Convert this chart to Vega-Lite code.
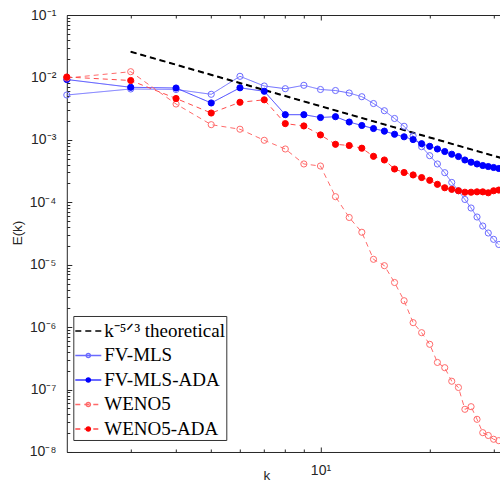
{
  "$schema": "https://vega.github.io/schema/vega-lite/v6.json",
  "width": 437,
  "height": 437,
  "autosize": {"type": "none"},
  "padding": {"left": 66.8, "top": 15, "right": 0, "bottom": 30},
  "background": "white",
  "config": {
    "view": {"stroke": null},
    "axis": {"grid": false, "domainColor": "#262626", "tickColor": "#262626", "labelColor": "#262626", "titleColor": "#262626", "labelFont": "Liberation Sans", "titleFont": "Liberation Sans", "labelFontSize": 14, "titleFontSize": 13.5, "titleFontWeight": "normal", "domainWidth": 1, "tickWidth": 1}
  },
  "data": {"values": [
    {"s": "T", "k": 3, "E": 0.0258},
    {"s": "T", "k": 32, "E": 0.000499},
    {"s": "FV-MLS", "k": 2, "E": 0.00523},
    {"s": "FV-MLS", "k": 3, "E": 0.00653},
    {"s": "FV-MLS", "k": 4, "E": 0.00641},
    {"s": "FV-MLS", "k": 5, "E": 0.00537},
    {"s": "FV-MLS", "k": 6, "E": 0.01042},
    {"s": "FV-MLS", "k": 7, "E": 0.00729},
    {"s": "FV-MLS", "k": 8, "E": 0.0066},
    {"s": "FV-MLS", "k": 9, "E": 0.00748},
    {"s": "FV-MLS", "k": 10, "E": 0.00641},
    {"s": "FV-MLS", "k": 11, "E": 0.00617},
    {"s": "FV-MLS", "k": 12, "E": 0.00563},
    {"s": "FV-MLS", "k": 13, "E": 0.00491},
    {"s": "FV-MLS", "k": 14, "E": 0.00382},
    {"s": "FV-MLS", "k": 15, "E": 0.00293},
    {"s": "FV-MLS", "k": 16, "E": 0.0022},
    {"s": "FV-MLS", "k": 17, "E": 0.00165},
    {"s": "FV-MLS", "k": 18, "E": 0.00116},
    {"s": "FV-MLS", "k": 19, "E": 0.000777},
    {"s": "FV-MLS", "k": 20, "E": 0.000558},
    {"s": "FV-MLS", "k": 21, "E": 0.000411},
    {"s": "FV-MLS", "k": 22, "E": 0.000298},
    {"s": "FV-MLS", "k": 23, "E": 0.000208},
    {"s": "FV-MLS", "k": 24, "E": 0.000153},
    {"s": "FV-MLS", "k": 25, "E": 0.000111},
    {"s": "FV-MLS", "k": 26, "E": 0.000081},
    {"s": "FV-MLS", "k": 27, "E": 0.0000581},
    {"s": "FV-MLS", "k": 28, "E": 0.0000417},
    {"s": "FV-MLS", "k": 29, "E": 0.0000322},
    {"s": "FV-MLS", "k": 30, "E": 0.0000255},
    {"s": "FV-MLS", "k": 31, "E": 0.0000211},
    {"s": "FV-MLS-ADA", "k": 2, "E": 0.00926},
    {"s": "FV-MLS-ADA", "k": 3, "E": 0.00695},
    {"s": "FV-MLS-ADA", "k": 4, "E": 0.00677},
    {"s": "FV-MLS-ADA", "k": 5, "E": 0.0039},
    {"s": "FV-MLS-ADA", "k": 6, "E": 0.00682},
    {"s": "FV-MLS-ADA", "k": 7, "E": 0.006},
    {"s": "FV-MLS-ADA", "k": 8, "E": 0.00253},
    {"s": "FV-MLS-ADA", "k": 9, "E": 0.00253},
    {"s": "FV-MLS-ADA", "k": 10, "E": 0.00228},
    {"s": "FV-MLS-ADA", "k": 11, "E": 0.00235},
    {"s": "FV-MLS-ADA", "k": 12, "E": 0.00193},
    {"s": "FV-MLS-ADA", "k": 13, "E": 0.0017},
    {"s": "FV-MLS-ADA", "k": 14, "E": 0.00152},
    {"s": "FV-MLS-ADA", "k": 15, "E": 0.00138},
    {"s": "FV-MLS-ADA", "k": 16, "E": 0.00123},
    {"s": "FV-MLS-ADA", "k": 17, "E": 0.00112},
    {"s": "FV-MLS-ADA", "k": 18, "E": 0.00101},
    {"s": "FV-MLS-ADA", "k": 19, "E": 0.000868},
    {"s": "FV-MLS-ADA", "k": 20, "E": 0.000788},
    {"s": "FV-MLS-ADA", "k": 21, "E": 0.000714},
    {"s": "FV-MLS-ADA", "k": 22, "E": 0.000651},
    {"s": "FV-MLS-ADA", "k": 23, "E": 0.000589},
    {"s": "FV-MLS-ADA", "k": 24, "E": 0.000541},
    {"s": "FV-MLS-ADA", "k": 25, "E": 0.000476},
    {"s": "FV-MLS-ADA", "k": 26, "E": 0.000439},
    {"s": "FV-MLS-ADA", "k": 27, "E": 0.000411},
    {"s": "FV-MLS-ADA", "k": 28, "E": 0.000388},
    {"s": "FV-MLS-ADA", "k": 29, "E": 0.000374},
    {"s": "FV-MLS-ADA", "k": 30, "E": 0.000361},
    {"s": "FV-MLS-ADA", "k": 31, "E": 0.000348},
    {"s": "WENO5", "k": 2, "E": 0.00979},
    {"s": "WENO5", "k": 3, "E": 0.01235},
    {"s": "WENO5", "k": 4, "E": 0.00375},
    {"s": "WENO5", "k": 5, "E": 0.00175},
    {"s": "WENO5", "k": 6, "E": 0.00148},
    {"s": "WENO5", "k": 7, "E": 0.000984},
    {"s": "WENO5", "k": 8, "E": 0.000714},
    {"s": "WENO5", "k": 9, "E": 0.000411},
    {"s": "WENO5", "k": 10, "E": 0.000381},
    {"s": "WENO5", "k": 11, "E": 0.000123},
    {"s": "WENO5", "k": 12, "E": 0.0000571},
    {"s": "WENO5", "k": 13, "E": 0.0000331},
    {"s": "WENO5", "k": 14, "E": 0.0000122},
    {"s": "WENO5", "k": 15, "E": 0.00000965},
    {"s": "WENO5", "k": 16, "E": 0.00000519},
    {"s": "WENO5", "k": 17, "E": 0.00000265},
    {"s": "WENO5", "k": 18, "E": 0.00000118},
    {"s": "WENO5", "k": 19, "E": 8.15e-7},
    {"s": "WENO5", "k": 20, "E": 5.31e-7},
    {"s": "WENO5", "k": 21, "E": 2.72e-7},
    {"s": "WENO5", "k": 22, "E": 2.24e-7},
    {"s": "WENO5", "k": 23, "E": 1.36e-7},
    {"s": "WENO5", "k": 24, "E": 1.08e-7},
    {"s": "WENO5", "k": 25, "E": 4.83e-8},
    {"s": "WENO5", "k": 26, "E": 5.32e-8},
    {"s": "WENO5", "k": 27, "E": 3.34e-8},
    {"s": "WENO5", "k": 28, "E": 2.04e-8},
    {"s": "WENO5", "k": 29, "E": 1.84e-8},
    {"s": "WENO5", "k": 30, "E": 1.6e-8},
    {"s": "WENO5", "k": 31, "E": 1.52e-8},
    {"s": "WENO5-ADA", "k": 2, "E": 0.01016},
    {"s": "WENO5-ADA", "k": 3, "E": 0.00893},
    {"s": "WENO5-ADA", "k": 4, "E": 0.0046},
    {"s": "WENO5-ADA", "k": 5, "E": 0.00269},
    {"s": "WENO5-ADA", "k": 6, "E": 0.004},
    {"s": "WENO5-ADA", "k": 7, "E": 0.00438},
    {"s": "WENO5-ADA", "k": 8, "E": 0.00182},
    {"s": "WENO5-ADA", "k": 9, "E": 0.00167},
    {"s": "WENO5-ADA", "k": 10, "E": 0.0012},
    {"s": "WENO5-ADA", "k": 11, "E": 0.000849},
    {"s": "WENO5-ADA", "k": 12, "E": 0.000812},
    {"s": "WENO5-ADA", "k": 13, "E": 0.000735},
    {"s": "WENO5-ADA", "k": 14, "E": 0.000545},
    {"s": "WENO5-ADA", "k": 15, "E": 0.000476},
    {"s": "WENO5-ADA", "k": 16, "E": 0.000341},
    {"s": "WENO5-ADA", "k": 17, "E": 0.0003},
    {"s": "WENO5-ADA", "k": 18, "E": 0.000274},
    {"s": "WENO5-ADA", "k": 19, "E": 0.000249},
    {"s": "WENO5-ADA", "k": 20, "E": 0.000225},
    {"s": "WENO5-ADA", "k": 21, "E": 0.000194},
    {"s": "WENO5-ADA", "k": 22, "E": 0.000171},
    {"s": "WENO5-ADA", "k": 23, "E": 0.000161},
    {"s": "WENO5-ADA", "k": 24, "E": 0.000153},
    {"s": "WENO5-ADA", "k": 25, "E": 0.000145},
    {"s": "WENO5-ADA", "k": 26, "E": 0.000145},
    {"s": "WENO5-ADA", "k": 27, "E": 0.000147},
    {"s": "WENO5-ADA", "k": 28, "E": 0.000147},
    {"s": "WENO5-ADA", "k": 29, "E": 0.000142},
    {"s": "WENO5-ADA", "k": 30, "E": 0.000153},
    {"s": "WENO5-ADA", "k": 31, "E": 0.000157}
  ]},
  "layer": [
    {
      "mark": {"type": "line", "strokeWidth": 1},
      "encoding": {
        "x": {"field": "k", "type": "quantitative", "scale": {"type": "log", "domain": [2, 32], "nice": false},
          "axis": {"orient": "bottom", "values": [10], "ticks": false, "domain": true, "labelExpr": "'10¹'", "labelPadding": 12, "labelBaseline": "top", "labelAlign": "center", "title": "k", "titleX": 199.7, "titleY": 28, "titleBaseline": "alphabetic", "titleAlign": "center"}},
        "y": {"field": "E", "type": "quantitative", "scale": {"type": "log", "domain": [1e-8, 0.1], "nice": false},
          "axis": {"orient": "left", "values": [1e-8, 1e-7, 1e-6, 1e-5, 1e-4, 1e-3, 1e-2, 1e-1], "ticks": false, "domain": true, "labelExpr": "'10' + ['⁰','⁻¹','⁻²','⁻³','⁻⁴','⁻⁵','⁻⁶','⁻⁷','⁻⁸'][-round(log(datum.value)/LN10)]", "labelPadding": 11, "labelBaseline": "middle", "title": "E(k)", "titleX": -49.3, "titleY": 217.5, "titleAngle": -90, "titleAlign": "center", "titleBaseline": "middle"}},
        "color": {"field": "s", "type": "nominal",
          "scale": {"domain": ["T", "FV-MLS", "FV-MLS-ADA", "WENO5", "WENO5-ADA"], "range": ["#000000", "#6a6aff", "#3a3aff", "#ff6a6a", "#ff4a4a"]},
          "legend": {"orient": "none", "legendX": 6.5, "legendY": 301, "title": null, "symbolType": "stroke", "symbolSize": 676, "labelFont": "Liberation Serif", "labelFontSize": 19, "labelColor": "#000000", "labelOffset": 2, "padding": 1, "rowPadding": 0.5, "fillColor": "white", "strokeColor": "#333333", "labelLimit": 400, "labelExpr": "datum.label == 'T' ? 'k⁻⁵ᐟ³ theoretical' : datum.label"}},
        "strokeDash": {"field": "s", "type": "nominal",
          "scale": {"domain": ["T", "FV-MLS", "FV-MLS-ADA", "WENO5", "WENO5-ADA"], "range": [[6, 4], [1, 0], [1, 0], [5, 4], [5, 4]]},
          "legend": {"orient": "none", "legendX": 6.5, "legendY": 301, "title": null, "symbolType": "stroke", "symbolSize": 676, "labelFont": "Liberation Serif", "labelFontSize": 19, "labelColor": "#000000", "labelOffset": 2, "padding": 1, "rowPadding": 0.5, "fillColor": "white", "strokeColor": "#333333", "labelLimit": 400, "labelExpr": "datum.label == 'T' ? 'k⁻⁵ᐟ³ theoretical' : datum.label"}}
      }
    },
    {
      "transform": [{"filter": "datum.s == 'T'"}],
      "mark": {"type": "line", "strokeWidth": 2, "color": "#000000", "strokeDash": [6, 4]},
      "encoding": {
        "x": {"field": "k", "type": "quantitative", "scale": {"type": "log", "domain": [2, 32], "nice": false},
          "axis": {"orient": "bottom", "offset": -437, "values": [3, 4, 5, 6, 7, 8, 9, 10, 20, 30], "labels": false, "domain": true, "title": null, "tickSize": {"condition": {"test": "datum.value == 10", "value": 5}, "value": 3}}},
        "y": {"field": "E", "type": "quantitative", "scale": {"type": "log", "domain": [1e-8, 0.1], "nice": false}, "axis": null}
      }
    },
    {
      "transform": [{"filter": "datum.s != 'T'"}],
      "mark": {"type": "point", "shape": "circle", "size": 38, "strokeWidth": 1, "opacity": 1, "filled": false},
      "encoding": {
        "x": {"field": "k", "type": "quantitative", "scale": {"type": "log", "domain": [2, 32], "nice": false},
          "axis": {"orient": "top", "offset": -437, "values": [3, 4, 5, 6, 7, 8, 9, 10, 20, 30], "labels": false, "domain": false, "title": null, "tickSize": {"condition": {"test": "datum.value == 10", "value": 5}, "value": 3}}},
        "y": {"field": "E", "type": "quantitative", "scale": {"type": "log", "domain": [1e-8, 0.1], "nice": false},
          "axis": {"orient": "right", "offset": -437, "labels": false, "domain": false, "title": null,
            "values": [1e-8, 2e-8, 3e-8, 4e-8, 5e-8, 6e-8, 7e-8, 8e-8, 9e-8, 1e-7, 2e-7, 3e-7, 4e-7, 5e-7, 6e-7, 7e-7, 8e-7, 9e-7, 1e-6, 2e-6, 3e-6, 4e-6, 5e-6, 6e-6, 7e-6, 8e-6, 9e-6, 1e-5, 2e-5, 3e-5, 4e-5, 5e-5, 6e-5, 7e-5, 8e-5, 9e-5, 1e-4, 2e-4, 3e-4, 4e-4, 5e-4, 6e-4, 7e-4, 8e-4, 9e-4, 1e-3, 2e-3, 3e-3, 4e-3, 5e-3, 6e-3, 7e-3, 8e-3, 9e-3, 1e-2, 2e-2, 3e-2, 4e-2, 5e-2, 6e-2, 7e-2, 8e-2, 9e-2, 1e-1],
            "tickSize": {"condition": {"test": "abs(log(datum.value)/LN10 - round(log(datum.value)/LN10)) < 0.01", "value": 5}, "value": 3}}},
        "stroke": {"field": "s", "type": "nominal",
          "scale": {"domain": ["T", "FV-MLS", "FV-MLS-ADA", "WENO5", "WENO5-ADA"], "range": ["transparent", "#6a6aff", "#0000ff", "#ff6a6a", "#ff0000"]},
          "legend": {"orient": "none", "legendX": 6.5, "legendY": 301, "title": null, "symbolType": "M-0.16,0A0.16,0.16,0,1,1,0.16,0A0.16,0.16,0,1,1,-0.16,0Z", "symbolSize": 676, "labelFont": "Liberation Serif", "labelFontSize": 19, "labelOpacity": 0, "labelOffset": 2, "padding": 1, "rowPadding": 0.5, "labelLimit": 400, "labelExpr": "datum.label == 'T' ? 'k⁻⁵ᐟ³ theoretical' : datum.label"}},
        "fill": {"field": "s", "type": "nominal",
          "scale": {"domain": ["T", "FV-MLS", "FV-MLS-ADA", "WENO5", "WENO5-ADA"], "range": ["transparent", "transparent", "#0000ff", "transparent", "#ff0000"]},
          "legend": {"orient": "none", "legendX": 6.5, "legendY": 301, "title": null, "symbolType": "M-0.16,0A0.16,0.16,0,1,1,0.16,0A0.16,0.16,0,1,1,-0.16,0Z", "symbolSize": 676, "labelFont": "Liberation Serif", "labelFontSize": 19, "labelOpacity": 0, "labelOffset": 2, "padding": 1, "rowPadding": 0.5, "labelLimit": 400, "labelExpr": "datum.label == 'T' ? 'k⁻⁵ᐟ³ theoretical' : datum.label"}}
      }
    }
  ],
  "resolve": {
    "axis": {"x": "independent", "y": "independent"},
    "legend": {"color": "independent", "strokeDash": "independent", "stroke": "independent", "fill": "independent"}
  }
}
